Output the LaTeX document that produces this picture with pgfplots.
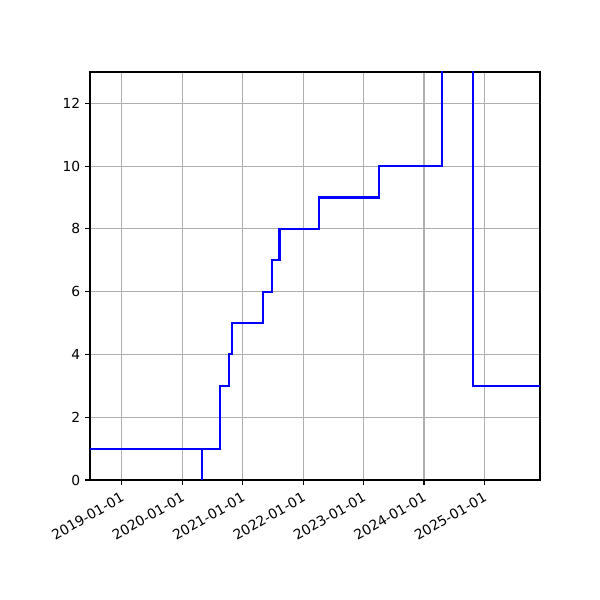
\documentclass[border=0pt]{standalone}
\usepackage{fontspec}
\setmainfont{DejaVu Sans}
\usepackage{pgfplots}
\pgfplotsset{compat=1.18}
\usetikzlibrary{calc}

\begin{document}
\begin{tikzpicture}
    \begin{axis}[
        scale only axis,
        width=4.5in, height=4.08in,
        xmin=2018.475, xmax=2025.92,
        ymin=0, ymax=13,
        xtick={2019,2020,2021,2022,2023,2024,2025},
        xticklabels={2019-01-01,2020-01-01,2021-01-01,2022-01-01,2023-01-01,2024-01-01,2025-01-01},
        ytick={0,2,4,6,8,10,12},
        x tick label style={rotate=30, anchor=north east, font=\fontsize{10}{12}\selectfont},
        y tick label style={font=\fontsize{10}{12}\selectfont},
        /pgf/number format/assume math mode=true,
        grid=major,
        major grid style={color=black!31, line width=0.8pt},
        tick align=outside,
        major tick length=3.5pt,
        xtick pos=bottom, ytick pos=left,
        axis line style={line width=0.8pt},
        every tick/.style={black, line width=0.8pt},
    ]
        \coordinate (O) at (rel axis cs:0,0);
        % step series (value held until next point)
        \addplot[blue, line width=1.5pt, const plot] coordinates {
            (2018.40, 1)
            (2020.324, -3)
            (2020.328, 1)
            (2020.62, 3)
            (2020.78, 4)
            (2020.82, 5)
            (2021.33, 6)
            (2021.48, 7)
            (2021.61, 8)
            (2022.27, 9)
            (2023.25, 10)
            (2024.30, 16)
            (2024.81, 3)
            (2026.00, 3)
        };
    \end{axis}
    \useasboundingbox ($(O)+(-0.9in,-1.2in)$) rectangle ($(O)+(5.1in,4.8in)$);
\end{tikzpicture}
\end{document}
